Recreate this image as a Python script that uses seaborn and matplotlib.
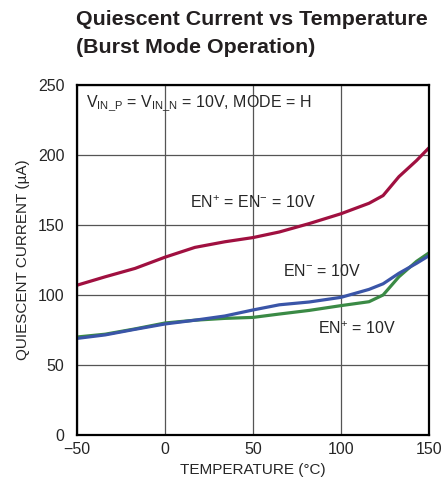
import matplotlib.pyplot as plt
import seaborn as sns
import pandas as pd

# 数据
temp = [-50, -34, -17, 0, 17, 34, 50, 65, 82, 100, 116, 124, 133, 143, 150]
iq_both = [107, 113, 119, 127, 134, 138, 141, 145, 151, 158, 165.5, 171, 184.5, 196, 205]
iq_en_minus = [69, 71.5, 75.5, 79.3, 82, 85, 89.3, 93, 95, 98.3, 104, 108, 115.5, 122.6, 128]
iq_en_plus = [70, 72, 75.8, 80, 82, 83.3, 84, 86.4, 89, 92.4, 95.2, 100, 113, 124, 130]

x_ticks = [-50, 0, 50, 100, 150]
y_ticks = [0, 50, 100, 150, 200, 250]

sns.set_style('white')
plt.rcParams['font.family'] = ['Liberation Sans', 'DejaVu Sans']
plt.rcParams['mathtext.fontset'] = 'custom'
plt.rcParams['mathtext.rm'] = 'Liberation Sans'
plt.rcParams['mathtext.it'] = 'Liberation Sans'

df = pd.DataFrame({
    'temp': temp * 3,
    'iq': iq_both + iq_en_minus + iq_en_plus,
    'mode': ['both'] * len(temp) + ['minus'] * len(temp) + ['plus'] * len(temp),
})

fig = plt.figure(figsize=(4.43, 4.91), dpi=100)
ax = fig.add_axes([0.174, 0.114, 0.794, 0.713])

palette = {'both': '#a01040', 'minus': '#3a55a8', 'plus': '#3a8a45'}
for mode in ['plus', 'minus', 'both']:
    sns.lineplot(data=df[df['mode'] == mode], x='temp', y='iq',
                 color=palette[mode], linewidth=2.3, ax=ax)

ax.set_xlim(-50, 150)
ax.set_ylim(0, 250)
ax.set_xticks(x_ticks)
ax.set_yticks(y_ticks)
ax.set_xticklabels(['\u221250', '0', '50', '100', '150'], fontsize=11.5)
ax.set_yticklabels([str(v) for v in y_ticks], fontsize=11.5)
ax.tick_params(axis='x', length=0, pad=5)
ax.tick_params(axis='y', length=0, pad=9)
ax.grid(True, color='#555555', linewidth=0.9)
for s in ax.spines.values():
    s.set_color('black')
    s.set_linewidth(1.6)

ax.set_xlabel('TEMPERATURE (\u00b0C)', fontsize=11, labelpad=4)
ax.set_ylabel('QUIESCENT CURRENT (\u00b5A)', fontsize=11, labelpad=6)

ax.text(-45, 237, r'V$_{\mathrm{IN\_P}}$ = V$_{\mathrm{IN\_N}}$ = 10V, MODE = H',
        fontsize=11.5, va='center', ha='left')
ax.text(14, 166, r'EN$^{+}$ = EN$^{-}$ = 10V', fontsize=11.5, va='center', ha='left')
ax.text(67, 117, r'EN$^{-}$ = 10V', fontsize=11.5, va='center', ha='left')
ax.text(87, 76, r'EN$^{+}$ = 10V', fontsize=11.5, va='center', ha='left')

fig.text(0.172, 0.96, 'Quiescent Current vs Temperature', fontsize=15.4,
         fontweight='bold', color='#231f20', ha='left', va='center')
fig.text(0.172, 0.903, '(Burst Mode Operation)', fontsize=15.4,
         fontweight='bold', color='#231f20', ha='left', va='center')

plt.savefig('out.png', dpi=100)
plt.close()
